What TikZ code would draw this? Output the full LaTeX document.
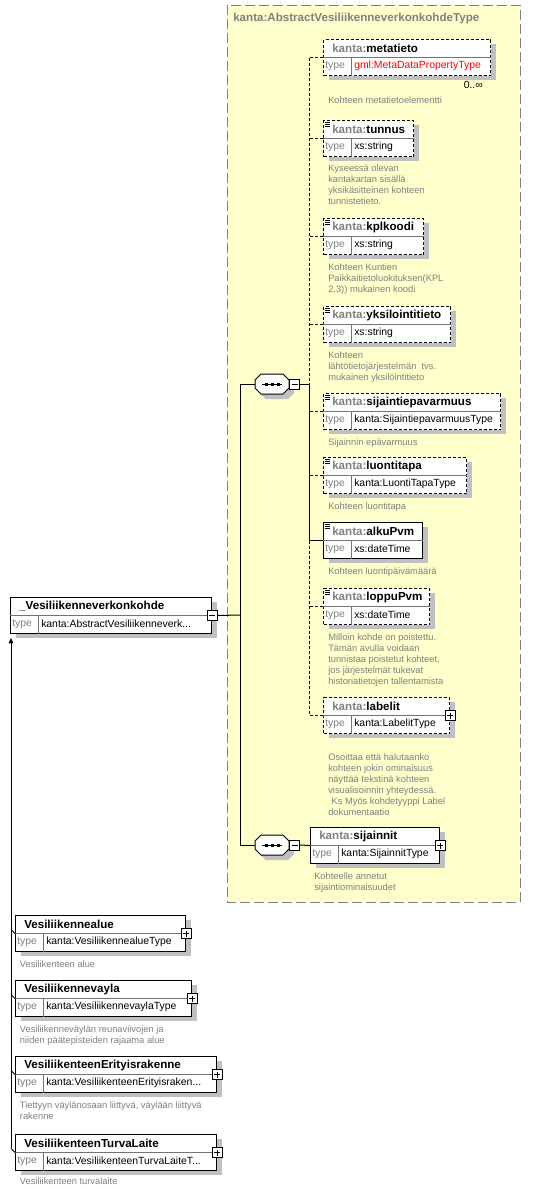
\documentclass[tikz,border=0pt]{standalone}
\usepackage{fontspec}
\setmainfont{Liberation Sans}
\usepackage{tikz}
\usetikzlibrary{positioning,arrows.meta}

\definecolor{typeyellow}{RGB}{255,255,204}
\definecolor{framegrey}{RGB}{128,128,128}
\definecolor{shadowgrey}{RGB}{192,192,192}
\definecolor{docgrey}{RGB}{128,128,128}

\tikzset{
  reqbox/.style={draw, line width=0.75pt, fill=white},
  optbox/.style={draw, line width=0.75pt, fill=white, dash pattern=on 2.25pt off 1.5pt},
  reqline/.style={line width=0.75pt},
  optline/.style={line width=0.75pt, dash pattern=on 2.25pt off 1.5pt},
  rowline/.style={line width=0.75pt, draw=black!55},
  elname/.style={inner sep=0pt, font=\fontsize{8.7pt}{10pt}\selectfont\bfseries},
  typelbl/.style={inner sep=0pt, text=docgrey, font=\fontsize{7.8pt}{9pt}\selectfont},
  typetxt/.style={inner sep=0pt, font=\fontsize{7.8pt}{9pt}\selectfont},
  doc/.style={inner sep=0pt, align=left, text=docgrey, font=\fontsize{7pt}{8.25pt}\selectfont},
  pmbase/.style={draw, line width=0.75pt, fill=white, minimum size=7.5pt, inner sep=0pt},
  plusbox/.style={pmbase, path picture={
      \draw ([xshift=1.5pt]path picture bounding box.west) -- ([xshift=-1.5pt]path picture bounding box.east);
      \draw ([yshift=1.5pt]path picture bounding box.south) -- ([yshift=-1.5pt]path picture bounding box.north);}},
  minusbox/.style={pmbase, path picture={
      \draw ([xshift=1.5pt]path picture bounding box.west) -- ([xshift=-1.5pt]path picture bounding box.east);}},
}

% element box: name, x, y, width, border, prefix, local name, type, type colour
\newcommand{\elem}[9]{%
  \fill[shadowgrey] (#2+6,#3+5) rectangle ++(#4,36);
  \node[#5, minimum width=#4*0.75pt, minimum height=27pt, inner sep=0pt, anchor=north west] (#1) at (#2,#3) {};
  \draw[rowline] (#1.west) -- (#1.east);
  \draw[rowline] ([xshift=21pt]#1.west) -- ([xshift=21pt]#1.south west);
  \node[elname, anchor=west] (#1-name) at (#2+9,#3+9) {\textcolor{docgrey}{#6}#7};
  \node[typelbl, anchor=west] (#1-tl) at (#2+2,#3+27) {type};
  \node[typetxt, text=#9, anchor=west] (#1-type) at (#2+31,#3+27) {#8};
}

% simple content mark in the top left corner
\newcommand{\simplemark}[1]{%
  \foreach \dy in {2,4,6} \draw[line width=0.6pt] ([shift={(2,\dy)}]#1.north west) -- ++(5,0);
}

% sequence compositor: name, left x, middle y
\newcommand{\seqgroup}[3]{%
  \fill[shadowgrey] (#2+11,#3-5) -- (#2+33,#3-5) -- (#2+39,#3+1) -- (#2+39,#3+9) -- (#2+33,#3+15) -- (#2+11,#3+15) -- (#2+5,#3+9) -- (#2+5,#3+1) -- cycle;
  \draw[reqbox] (#2+6,#3-10) -- (#2+28,#3-10) -- (#2+34,#3-4) -- (#2+34,#3+4) -- (#2+28,#3+10) -- (#2+6,#3+10) -- (#2,#3+4) -- (#2,#3-4) -- cycle;
  \draw[line width=0.75pt] (#2+7,#3) -- (#2+27,#3);
  \foreach \dx in {11,17,23} \fill (#2+\dx-1.5,#3-1.5) rectangle ++(3,3);
  \node[minusbox] (#1-pm) at (#2+39.5,#3) {};
  \coordinate (#1-in) at (#2,#3);
}

\begin{document}
\begin{tikzpicture}[x=0.75pt, y=-0.75pt]
    \useasboundingbox (0,0) rectangle (536,1190);
    \fill[white] (0,0) rectangle (536,1190);

    % Draw complex type frame
    \draw[framegrey, fill=typeyellow, line width=0.75pt, dash pattern=on 7.5pt off 3pt] (227,5) rectangle (520,902);
    \node[elname, text=docgrey, anchor=west] (typetitle) at (233,18) {kanta:AbstractVesiliikenneverkonkohdeType};

    % Draw child elements
    \elem{metatieto}{323}{39}{167}{optbox}{kanta:}{metatieto}{gml:MetaDataPropertyType}{red}
    \elem{tunnus}{323}{120}{90}{optbox}{kanta:}{tunnus}{xs:string}{black}
    \elem{kplkoodi}{323}{218}{100}{optbox}{kanta:}{kplkoodi}{xs:string}{black}
    \elem{yksilointitieto}{323}{306}{127}{optbox}{kanta:}{yksilointitieto}{xs:string}{black}
    \elem{sijaintiepavarmuus}{323}{393}{177}{optbox}{kanta:}{sijaintiepavarmuus}{kanta:SijaintiepavarmuusType}{black}
    \elem{luontitapa}{323}{457}{143}{optbox}{kanta:}{luontitapa}{kanta:LuontiTapaType}{black}
    \elem{alkuPvm}{323}{522}{99}{reqbox}{kanta:}{alkuPvm}{xs:dateTime}{black}
    \elem{loppuPvm}{323}{588}{106}{optbox}{kanta:}{loppuPvm}{xs:dateTime}{black}
    \elem{labelit}{323}{697}{126}{optbox}{kanta:}{labelit}{kanta:LabelitType}{black}
    \elem{sijainnit}{310}{827}{129}{reqbox}{kanta:}{sijainnit}{kanta:SijainnitType}{black}
    \foreach \el in {tunnus,kplkoodi,yksilointitieto,sijaintiepavarmuus,luontitapa,alkuPvm,loppuPvm}
        {\simplemark{\el}}
    \node[typetxt, below left=3.5pt and 6pt of metatieto.south east] (metatieto-mult) {0..∞};
    \node[plusbox] (labelit-pm) at (labelit.east) {};
    \node[plusbox] (sijainnit-pm) at (sijainnit.east) {};

    % Documentation texts
    \node[doc, below right=15.4pt and 3.75pt of metatieto.south west] (metatieto-doc) {Kohteen metatietoelementti};
    \node[doc, below right=5.6pt and 3.75pt of tunnus.south west] (tunnus-doc)
        {Kyseessä olevan\\kantakartan sisällä\\yksikäsitteinen kohteen\\tunnistetieto.};
    \node[doc, below right=6pt and 3.75pt of kplkoodi.south west] (kplkoodi-doc)
        {Kohteen Kuntien\\Paikkaitietoluokituksen(KPL\\2.3)) mukainen koodi};
    \node[doc, below right=6pt and 3.75pt of yksilointitieto.south west] (yksilointitieto-doc)
        {Kohteen\\lähtötietojärjestelmän\ \ tvs.\\mukainen yksilöintitieto};
    \node[doc, below right=6pt and 3.75pt of sijaintiepavarmuus.south west] (sijaintiepavarmuus-doc) {Sijainnin epävarmuus};
    \node[doc, below right=6pt and 3.75pt of luontitapa.south west] (luontitapa-doc) {Kohteen luontitapa};
    \node[doc, below right=6pt and 3.75pt of alkuPvm.south west] (alkuPvm-doc) {Kohteen luontipäivämäärä};
    \node[doc, below right=6pt and 3.75pt of loppuPvm.south west] (loppuPvm-doc)
        {Milloin kohde on poistettu.\\Tämän avulla voidaan\\tunnistaa poistetut kohteet,\\jos järjestelmät tukevat\\historiatietojen tallentamista};
    \node[doc, below right=14.6pt and 3.75pt of labelit.south west] (labelit-doc)
        {Osoittaa että halutaanko\\kohteen jokin ominaisuus\\näyttää tekstinä kohteen\\visualisoinnin yhteydessä.\\\hspace{2.5pt}Ks Myös kohdetyyppi Label\\dokumentaatio};
    \node[doc, below right=6pt and 3pt of sijainnit.south west] (sijainnit-doc)
        {Kohteelle annetut\\sijaintiominaisuudet};

    % Sequence compositors
    \seqgroup{seqA}{255}{384}
    \seqgroup{seqB}{255}{845}
    \coordinate (busA) at (309,384);
    \draw[reqline] (seqA-pm.east) -- (busA);
    \draw[optline] (metatieto.west -| busA) -- (busA);
    \draw[reqline] (busA) -- (alkuPvm.west -| busA);
    \draw[optline] (alkuPvm.west -| busA) -- (labelit.west -| busA);
    \foreach \el in {metatieto,tunnus,kplkoodi,yksilointitieto,sijaintiepavarmuus,luontitapa,loppuPvm,labelit}
        \draw[optline] (\el.west) -- (\el.west -| busA);
    \draw[reqline] (alkuPvm.west) -- (alkuPvm.west -| busA);
    \draw[reqline] (seqB-pm.east) -- (sijainnit.west);

    % Draw global element and its substitution group
    \elem{root}{10}{597}{201}{reqbox}{}{\_Vesiliikenneverkonkohde}{kanta:AbstractVesiliikenneverk...}{black}
    \node[minusbox] (root-pm) at (root.east) {};
    \coordinate (trunk) at (240,615);
    \draw[reqline] (root-pm.east) -- (trunk);
    \draw[reqline] (seqA-in) -- (seqA-in -| trunk) -- (seqB-in -| trunk) -- (seqB-in);

    \elem{alue}{15}{915}{170}{reqbox}{}{Vesiliikennealue}{kanta:VesiliikennealueType}{black}
    \elem{vayla}{15}{980}{176}{reqbox}{}{Vesiliikennevayla}{kanta:VesiliikennevaylaType}{black}
    \elem{erityis}{15}{1056}{201}{reqbox}{}{VesiliikenteenErityisrakenne}{kanta:VesiliikenteenErityisraken...}{black}
    \elem{turva}{15}{1134}{201}{reqbox}{}{VesiliikenteenTurvaLaite}{kanta:VesiliikenteenTurvaLaiteT...}{black}
    \foreach \el in {alue,vayla,erityis,turva}
        {\node[plusbox] (\el-pm) at (\el.east) {};}
    \node[doc, below right=6.4pt and 3.5pt of alue.south west] (alue-doc) {Vesilikenteen alue};
    \node[doc, below right=6.4pt and 3.5pt of vayla.south west] (vayla-doc)
        {Vesiliikenneväylän reunaviivojen ja\\niiden päätepisteiden rajaama alue};
    \node[doc, below right=6.4pt and 3.5pt of erityis.south west] (erityis-doc)
        {Tiettyyn väylänosaan liittyvä, väylään liittyvä\\rakenne};
    \node[doc, below right=4.5pt and 3.5pt of turva.south west] (turva-doc) {Vesiliikenteen turvalaite};

    \coordinate (subst) at (11,1148);
    \draw[reqline, -{Triangle[length=4pt, width=3.5pt]}, shorten >=3pt] (subst) -- (root.south west -| subst);
    \foreach \el in {alue,vayla,erityis,turva}
        \draw[line width=0.6pt] (\el.west) -- ([yshift=3pt]\el.west -| subst);
\end{tikzpicture}
\end{document}
